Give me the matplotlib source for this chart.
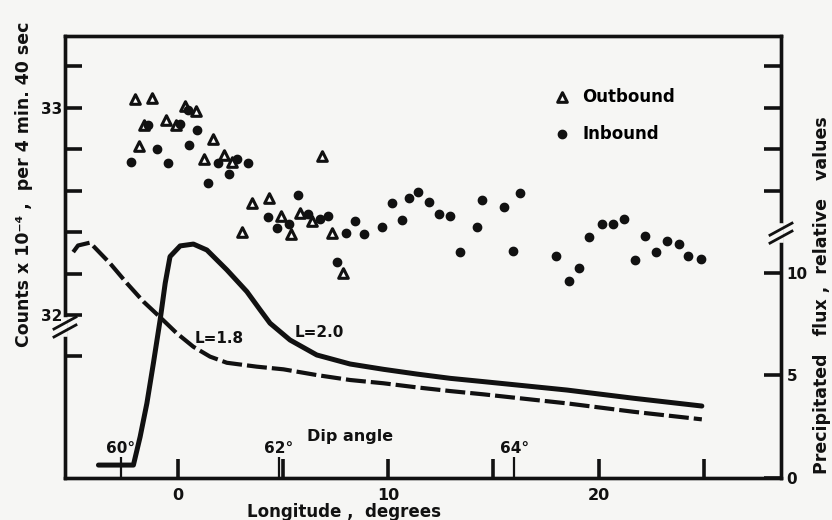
import matplotlib.pyplot as plt
from matplotlib.transforms import blended_transform_factory

# Counting rates, longitude in degrees, counts x 10^-4
out_lon = [-2.02, -1.20, 0.36, 0.86, -1.62, -0.56, -0.07, -1.83, 1.70, 1.27, 2.18,
           2.59, 6.85, 3.52, 4.36, 3.08, 4.92, 5.82, 5.39, 6.38, 7.33, 7.85]
out_counts = [33.040, 33.045, 33.008, 32.986, 32.917, 32.941, 32.917, 32.815, 32.848, 32.751, 32.772,
              32.737, 32.767, 32.542, 32.563, 32.402, 32.479, 32.493, 32.391, 32.453, 32.397, 32.201]

in_lon = [-1.39, 0.12, 0.47, 0.94, 0.56, -0.96, -2.21, -0.47, 1.94, 2.84, 3.32, 2.45, 1.46,
          5.71, 4.31, 4.74, 5.28, 6.21, 6.74, 7.14, 8.43, 8.00, 8.83, 9.70, 10.18, 10.66,
          7.56, 11.00, 11.43, 11.95, 12.42, 12.95, 13.39, 14.21, 14.48, 15.48, 15.92, 16.24,
          17.95, 18.58, 19.06, 19.55, 20.15, 20.66, 21.18, 21.72, 22.18, 22.73, 23.24, 23.81,
          24.25, 24.85]
in_counts = [32.917, 32.921, 32.989, 32.892, 32.822, 32.799, 32.740, 32.735, 32.732, 32.751,
             32.735, 32.680, 32.635, 32.579, 32.474, 32.418, 32.439, 32.487, 32.462, 32.479,
             32.453, 32.397, 32.391, 32.426, 32.539, 32.457, 32.254, 32.566, 32.595, 32.544,
             32.487, 32.479, 32.302, 32.426, 32.555, 32.522, 32.309, 32.587, 32.283, 32.164,
             32.225, 32.375, 32.438, 32.439, 32.462, 32.265, 32.381, 32.305, 32.358, 32.341,
             32.285, 32.269]

# Precipitated flux (relative values) for L=2.0 and L=1.8
l20_lon = [-3.76, -2.10, -1.78, -1.46, -1.15, -0.83, -0.59, -0.36, 0.12, 0.75, 1.39, 2.34, 3.29,
           3.92, 4.39, 5.34, 6.61, 8.19, 9.78, 11.36, 12.95, 14.53, 18.49, 21.65, 24.90]
l20_flux = [0.63, 0.63, 2.01, 3.64, 5.60, 7.71, 9.50, 10.80, 11.32, 11.41, 11.12, 10.15, 9.09,
            8.20, 7.55, 6.73, 6.00, 5.56, 5.30, 5.07, 4.86, 4.70, 4.29, 3.89, 3.51]
l18_lon = [-4.96, -4.73, -4.16, -3.21, -2.41, -1.62, -0.83, -0.04, 0.75, 1.54, 2.34, 3.76,
           5.03, 6.61, 8.19, 9.78, 11.36, 12.95, 14.53, 18.49, 21.65, 24.90]
l18_flux = [11.02, 11.34, 11.48, 10.47, 9.50, 8.60, 7.84, 7.06, 6.40, 5.92, 5.62, 5.43,
            5.30, 5.02, 4.78, 4.62, 4.42, 4.24, 4.08, 3.64, 3.23, 2.86]

# Dip angle markers
dip_lon = [-2.7, 4.8, 16.0]
dip_labels = ["60°", "62°", "64°"]

x_ticks = [0, 5, 10, 15, 20, 25]
x_ticklabels = ["0", "", "10", "", "20", ""]
count_ticks = [31.8, 32.0, 32.2, 32.4, 32.6, 32.8, 33.0, 33.2]
count_ticklabels = ["", "32", "", "", "", "", "33", ""]
flux_ticks = [0, 5, 10]
flux_ticklabels = ["0", "5", "10"]

INK = '#111111'
PAPER = '#f6f6f4'
plt.rcParams['font.family'] = 'DejaVu Sans'
plt.rcParams['font.weight'] = 'bold'

fig = plt.figure(figsize=(8.32, 5.2), dpi=100, facecolor=PAPER)
ax = fig.add_axes([0.0781, 0.0808, 0.8606, 0.85])
ax.set_facecolor(PAPER)
axr = ax.twinx()

count_lim = (31.214, 33.346)
flux_lim = (0, 21.56)
ax.set_xlim(-5.35, 28.66)
ax.set_ylim(*count_lim)
axr.set_ylim(*flux_lim)

# curves
axr.plot(l20_lon, l20_flux, color=INK, lw=3.6, solid_capstyle='round', solid_joinstyle='round')
axr.plot(l18_lon, l18_flux, color=INK, lw=3.0, dashes=(4.8, 1.2), dash_capstyle='butt')
axr.text(1.97, 6.78, "L=1.8", ha='center', va='center', fontsize=11, color=INK)
axr.text(6.72, 7.12, "L=2.0", ha='center', va='center', fontsize=11, color=INK)

# points
ax.scatter(out_lon, out_counts, marker='^', s=48, facecolor='white', edgecolor=INK,
           linewidths=2.2, label='Outbound', zorder=3)
ax.scatter(in_lon, in_counts, marker='o', s=36, color=INK, label='Inbound', zorder=3)

leg = ax.legend(loc='upper left', bbox_to_anchor=(0.671, 0.902), frameon=False,
                handlelength=1.0, handletextpad=0.7, labelspacing=1.15, borderpad=0,
                scatterpoints=1, prop={'size': 12, 'weight': 'bold'})

# ticks
ax.set_xticks(x_ticks, x_ticklabels)
ax.tick_params(axis='x', direction='in', length=14, width=2.6, pad=7, labelsize=11.5, colors=INK)
ax.set_yticks(count_ticks, count_ticklabels)
ax.tick_params(axis='y', direction='in', length=12, width=2.6, pad=2, labelsize=11, colors=INK)

def to_flux(c):
    return (c - count_lim[0]) / (count_lim[1] - count_lim[0]) * flux_lim[1]

upper = [to_flux(c) for c in count_ticks[4:]]
axr.set_yticks(flux_ticks + upper, flux_ticklabels + [""] * len(upper))
axr.tick_params(axis='y', direction='in', length=12, width=2.6, pad=4, labelsize=11, colors=INK)

for a in (ax, axr):
    for sp in a.spines.values():
        sp.set_linewidth(2.4)
        sp.set_color(INK)

# dip angle scale
tr = blended_transform_factory(ax.transData, ax.transAxes)
ax.vlines(dip_lon, 0, 0.048, transform=tr, color=INK, lw=1.6)
for x, lab in zip(dip_lon, dip_labels):
    ax.text(x, 0.05, lab, transform=tr, ha='center', va='bottom', fontsize=11, color=INK)
fig.text(350 / 832, 1 - 437 / 520, "Dip angle", ha='center', va='center', fontsize=11.5, color=INK)

# axis breaks
dx, dy = 11 / 716, 6 / 442
for xb, yb in ((0, 0.3416), (1, 0.554)):
    axr.plot([xb, xb], [yb - 0.016, yb + 0.016], color=PAPER, lw=4, transform=axr.transAxes,
             clip_on=False, zorder=10)
    for off in (-0.009, 0.009):
        axr.plot([xb - dx, xb + dx], [yb + off - dy, yb + off + dy], color=INK, lw=2.0,
                 transform=axr.transAxes, clip_on=False, zorder=11)

# axis titles
fig.text(24 / 832, 1 - 184 / 520, "Counts x 10⁻⁴ ,  per 4 min. 40 sec", rotation=90,
         ha='center', va='center', fontsize=12.5, color=INK)
fig.text(822 / 832, 1 - 295 / 520, "Precipitated   flux ,  relative   values", rotation=90,
         ha='center', va='center', fontsize=12.5, color=INK)
fig.text(344 / 832, 1 - 512 / 520, "Longitude ,  degrees", ha='center', va='center',
         fontsize=12, color=INK)

fig.savefig('out.png', dpi=100, facecolor=PAPER)
